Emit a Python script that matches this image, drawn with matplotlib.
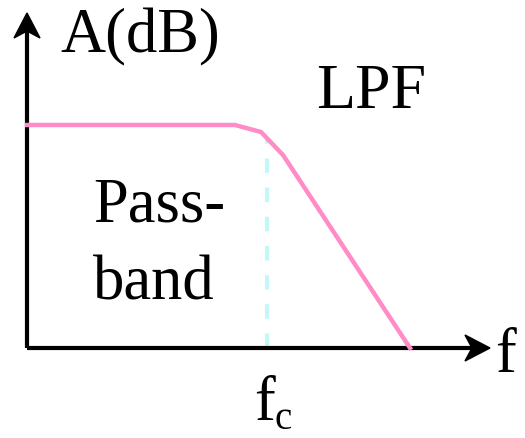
import matplotlib
matplotlib.use("Agg")
import matplotlib.pyplot as plt
from matplotlib.path import Path
from matplotlib.patches import PathPatch

# Response curve (frequency, gain) in diagram units
freq = [0.0, 208, 234, 256, 383]
gain = [223, 223, 216, 193, 0]
fc = 240          # cutoff frequency position
fc_top = 208      # top of the dashed marker
labels = {"yaxis": "A(dB)", "xaxis": "f", "title": "LPF", "pass1": "Pass-", "pass2": "band", "fc": "f", "fc_sub": "c"}

W, H = 525, 438
fig = plt.figure(figsize=(W / 100, H / 100), dpi=100)
ax = fig.add_axes([0, 0, 1, 1])
# origin at pixel (27, 348)
ax.set_xlim(-27, W - 27)
ax.set_ylim(-(H - 348), 348)
ax.axis("off")

serif = ["Liberation Serif", "DejaVu Serif"]

# axes
ax.plot([0, 0], [0, 318], color="black", lw=3, solid_capstyle="butt", zorder=3)
ax.plot([0, 445], [0, 0], color="black", lw=3, solid_capstyle="butt", zorder=3)

def head(tip, direction):
    x, y = tip
    L, Wd, notch = 25, 13, 7
    if direction == "up":
        verts = [(x, y), (x - Wd, y - L), (x, y - L + notch), (x + Wd, y - L), (x, y)]
    else:
        verts = [(x, y), (x - L, y + Wd), (x - L + notch, y), (x - L, y - Wd), (x, y)]
    codes = [Path.MOVETO] + [Path.LINETO] * 3 + [Path.CLOSEPOLY]
    ax.add_patch(PathPatch(Path(verts, codes), facecolor="black", edgecolor="black", lw=1, zorder=4))

head((0, 335), "up")
head((463, 0), "right")

# dashed cutoff marker
ax.plot([fc, fc], [0, fc_top], color="#C4F8F8", lw=3, linestyle=(0, (3.5, 3.5)), zorder=2)

# response curve
ax.plot(freq, gain, color="#FF8CC6", lw=3.2, solid_joinstyle="miter", zorder=3)

fs = 45
ax.text(33, 296, labels["yaxis"], fontsize=fs, family=serif, ha="left", va="baseline")
ax.text(289, 240, labels["title"], fontsize=46, family=serif, ha="left", va="baseline")
ax.text(66, 127, labels["pass1"], fontsize=fs, family=serif, ha="left", va="baseline")
ax.text(66, 48, labels["pass2"], fontsize=fs, family=serif, ha="left", va="baseline")
ax.text(468, -24, labels["xaxis"], fontsize=fs, family=serif, ha="left", va="baseline")
ax.text(227, -72, labels["fc"], fontsize=fs, family=serif, ha="left", va="baseline")
ax.text(247, -81, labels["fc_sub"], fontsize=28, family=serif, ha="left", va="baseline")

fig.savefig("out.png", dpi=100, facecolor="white")
